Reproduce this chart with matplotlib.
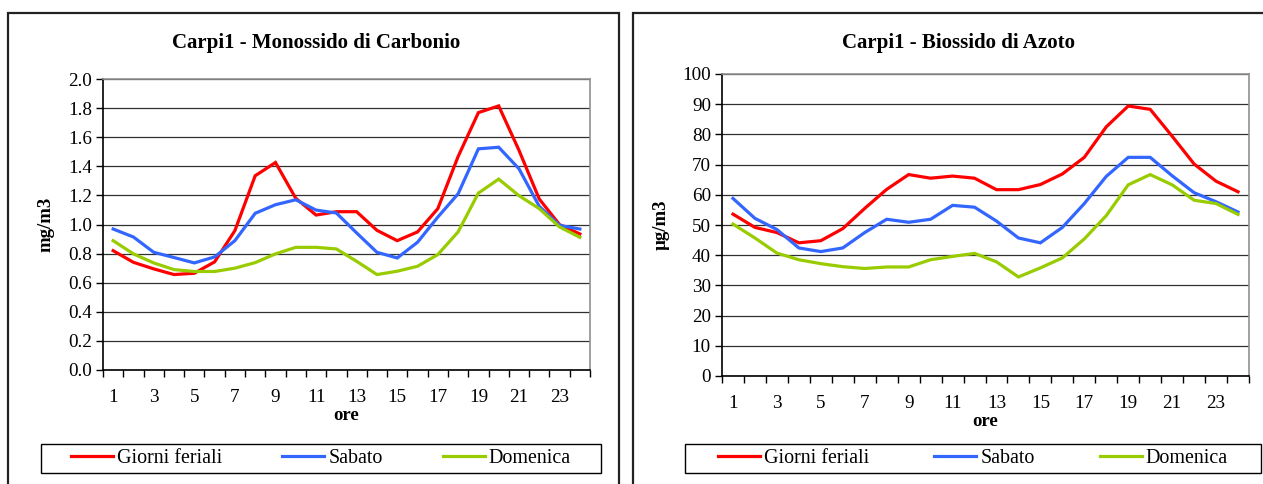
import matplotlib
matplotlib.use("Agg")
import matplotlib.pyplot as plt
from matplotlib.patches import Rectangle
import numpy as np

plt.rcParams['font.family'] = ['Liberation Serif', 'DejaVu Serif']

ore = list(range(1, 25))
xtick_labels = [str(h) for h in range(1, 25, 2)]
series_names = ["Giorni feriali", "Sabato", "Domenica"]

co_feriali = [0.82, 0.74, 0.695, 0.656, 0.665, 0.743, 0.958, 1.335, 1.426, 1.18, 1.065, 1.088,
              1.088, 0.96, 0.889, 0.949, 1.109, 1.467, 1.769, 1.815, 1.51, 1.175, 0.999, 0.935]
co_sabato = [0.969, 0.914, 0.809, 0.773, 0.736, 0.777, 0.889, 1.077, 1.136, 1.17, 1.099, 1.079,
             0.942, 0.809, 0.77, 0.878, 1.051, 1.211, 1.52, 1.531, 1.383, 1.125, 0.994, 0.969]
co_domenica = [0.889, 0.798, 0.736, 0.69, 0.677, 0.677, 0.70, 0.738, 0.798, 0.843, 0.843, 0.832,
               0.747, 0.656, 0.679, 0.713, 0.793, 0.949, 1.216, 1.312, 1.198, 1.109, 0.983, 0.912]

no2_feriali = [53.6, 49.2, 47.5, 44.1, 44.8, 48.8, 55.5, 61.8, 66.7, 65.5, 66.2, 65.5,
               61.7, 61.7, 63.4, 66.9, 72.4, 82.5, 89.4, 88.3, 79.4, 70.2, 64.5, 61.0]
no2_sabato = [58.8, 52.2, 48.5, 42.4, 41.2, 42.4, 47.5, 51.9, 50.9, 51.9, 56.5, 55.9,
              51.3, 45.7, 44.1, 49.2, 57.1, 66.1, 72.4, 72.4, 66.3, 60.7, 57.7, 54.3]
no2_domenica = [50.3, 45.7, 40.7, 38.5, 37.2, 36.2, 35.6, 36.1, 36.1, 38.5, 39.6, 40.6,
                37.8, 32.8, 35.8, 39.1, 45.4, 53.1, 63.3, 66.7, 63.3, 58.2, 57.1, 53.5]

colors = ["#FF0000", "#3366FF", "#99CC00"]

W, H = 1263, 484
fig = plt.figure(figsize=(W / 100, H / 100), dpi=100)


def fx(px):
    return px / W


def fy(py):
    return 1 - py / H


def frame(x0, y0, x1, y1, lw, color):
    fig.patches.append(Rectangle((fx(x0), fy(y1)), fx(x1) - fx(x0), fy(y0) - fy(y1),
                                 transform=fig.transFigure, fill=False, edgecolor=color,
                                 linewidth=lw, zorder=0))


# panel borders
frame(8, 13, 619, 495, 1.6, "#222222")
frame(633, 13, 1275, 495, 1.6, "#222222")


def make_panel(ax_rect, data, yticks, yfmt, ylabel, title, title_xy, ylabel_x, ore_y,
               legend_box, colspace):
    x0, y0, x1, y1 = ax_rect
    ax = fig.add_axes([fx(x0), fy(y1), fx(x1) - fx(x0), fy(y0) - fy(y1)])
    for vals, name, c in zip(data, series_names, colors):
        ax.plot(ore, vals, color=c, lw=2.3, label=name, solid_joinstyle='miter', zorder=3)
    ax.set_xlim(0.5, 24.5)
    ax.set_ylim(yticks[0], yticks[-1])
    ax.set_yticks(yticks)
    ax.set_yticklabels([yfmt.format(v) for v in yticks])
    ax.yaxis.grid(True, color="#303030", lw=0.9)
    ax.set_axisbelow(True)
    ax.set_xticks(np.arange(0.5, 25, 1.0))
    ax.set_xticklabels([])
    ax.set_xticks(list(range(1, 25, 2)), minor=True)
    ax.set_xticklabels(xtick_labels, minor=True)
    ax.tick_params(axis='x', which='major', direction='out', length=5, width=1, color='black')
    ax.tick_params(axis='x', which='minor', length=0, pad=14, labelsize=13.8)
    ax.tick_params(axis='y', direction='out', length=5, width=1, labelsize=13.8, pad=3)
    for s in ['top', 'right']:
        ax.spines[s].set_color('#909090')
        ax.spines[s].set_linewidth(1.2)
    for s in ['left', 'bottom']:
        ax.spines[s].set_color('black')
        ax.spines[s].set_linewidth(1.2)
    fig.text(fx(title_xy[0]), fy(title_xy[1]), title, ha='center', va='center',
             fontsize=15, fontweight='bold')
    fig.text(fx(ylabel_x), fy((y0 + y1) / 2), ylabel, ha='center', va='center',
             rotation=90, fontsize=13.5, fontweight='bold')
    fig.text(fx((x0 + x1) / 2), fy(ore_y), "ore", ha='center', va='center',
             fontsize=13.5, fontweight='bold')
    lx0, ly0, lx1, ly1 = legend_box
    frame(lx0, ly0, lx1, ly1, 1.0, "black")
    ax.legend(loc='center', bbox_to_anchor=(fx(lx0), fy(ly1), fx(lx1) - fx(lx0), fy(ly0) - fy(ly1)),
              bbox_transform=fig.transFigure, ncol=3, frameon=False,
              fontsize=14.4, handlelength=2.1, handletextpad=0.2, borderaxespad=0,
              borderpad=0.0, columnspacing=colspace)
    return ax


make_panel((103, 79, 590, 370), [co_feriali, co_sabato, co_domenica],
           [round(0.2 * i, 1) for i in range(11)], "{:.1f}", "mg/m3",
           "Carpi1 - Monossido di Carbonio", (316, 43), 46, 416, (41, 444, 601, 473), 3.0)

make_panel((722, 74, 1249, 376), [no2_feriali, no2_sabato, no2_domenica],
           list(range(0, 101, 10)), "{:d}", "µg/m3",
           "Carpi1 - Biossido di Azoto", (958, 43), 661, 421, (685, 444, 1261, 473), 3.25)

fig.savefig("out.png", dpi=100)
